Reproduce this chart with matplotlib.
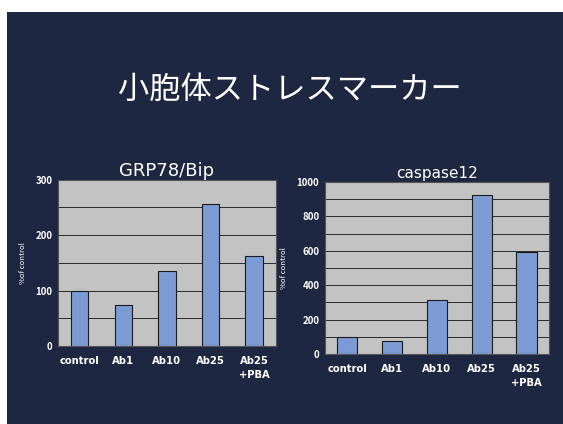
import matplotlib
matplotlib.use("Agg")
import matplotlib.pyplot as plt
from matplotlib.patches import Rectangle
from matplotlib.ticker import MultipleLocator

plt.rcParams['font.family'] = ['Noto Sans CJK JP', 'DejaVu Sans']

# data
categories = ["control", "Ab1", "Ab10", "Ab25", "Ab25\n+PBA"]
grp78_values = [100, 74, 135, 256, 162]
casp12_values = [97, 74, 313, 924, 592]

slide_title = "小胞体ストレスマーカー"
navy = "#1e2742"
plot_gray = "#c3c3c3"
bar_blue = "#7c9bd5"

fig = plt.figure(figsize=(5.63, 4.24), dpi=100, facecolor="white")
# dark slide background with a white scan margin top/left
fig.patches.append(Rectangle((7 / 563, 0), 1, 1 - 12 / 424, transform=fig.transFigure,
                             facecolor=navy, edgecolor="none", zorder=-1))
fig.text(0.514, 0.788, slide_title, color="white", fontsize=22.5, ha="center", va="center")


def draw_panel(rect, values, title, title_size, ymax, major, minor, width):
    ax = fig.add_axes(rect)
    ax.set_facecolor(plot_gray)
    x = range(len(categories))
    ax.bar(x, values, width=width, color=bar_blue, edgecolor="#1a1a1a", linewidth=0.8, zorder=3)
    ax.set_xlim(-0.5, len(categories) - 0.5)
    ax.set_ylim(0, ymax)
    ax.yaxis.set_major_locator(MultipleLocator(major))
    ax.yaxis.set_minor_locator(MultipleLocator(minor))
    ax.grid(axis="y", which="both", color="#2a2a2a", linewidth=0.7, zorder=1)
    ax.set_xticks(list(x))
    ax.set_xticklabels(categories, color="white", fontsize=7.2, fontweight="bold",
                       family="DejaVu Sans", linespacing=1.5)
    for lab in ax.get_yticklabels():
        lab.set_color("white")
        lab.set_fontsize(7)
        lab.set_fontweight("bold")
    ax.tick_params(axis="x", length=0, pad=7)
    ax.tick_params(axis="y", which="both", length=0, pad=4)
    ax.set_ylabel("%of control", color="white", fontsize=5.5, labelpad=6)
    ax.set_title(title, color="white", fontsize=title_size, pad=3, family="DejaVu Sans")
    for s in ax.spines.values():
        s.set_color("#555555")
        s.set_linewidth(0.8)
    return ax


draw_panel([0.103, 0.184, 0.387, 0.392], grp78_values, "GRP78/Bip", 13, 300, 100, 50, 0.4)
draw_panel([0.577, 0.165, 0.398, 0.406], casp12_values, "caspase12", 11, 1000, 200, 100, 0.45)

fig.savefig("out.png", dpi=100, facecolor="white")
